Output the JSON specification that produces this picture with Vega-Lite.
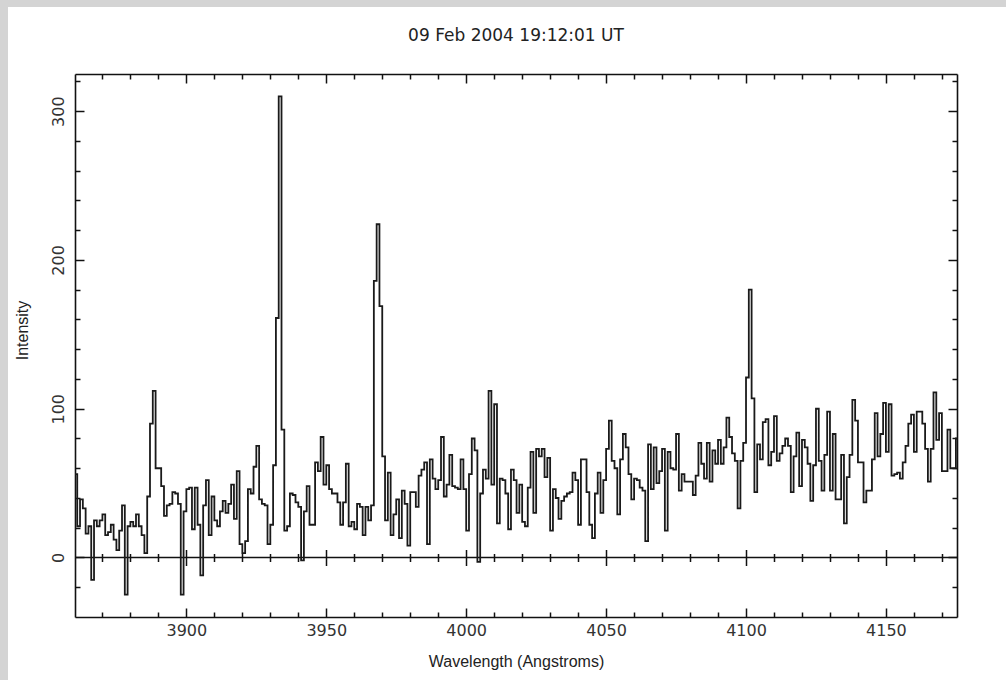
{
  "$schema": "https://vega.github.io/schema/vega-lite/v6.json",
  "width": 882,
  "height": 543,
  "autosize": {"type": "none"},
  "padding": {"left": 75, "top": 74, "right": 49, "bottom": 63},
  "background": "#d4d4d4",
  "config": {
    "view": {"stroke": "white", "strokeWidth": 134, "fill": "white"},
    "axis": {"grid": false}
  },
  "title": {
    "text": "09 Feb 2004 19:12:01 UT",
    "font": "DejaVu Sans",
    "fontSize": 17,
    "fontWeight": "normal",
    "color": "#222",
    "offset": 28,
    "anchor": "middle"
  },
  "resolve": {"axis": {"x": "independent", "y": "independent"}},
  "layer": [
    {
      "data": {"values": [{"k": 1}]},
      "mark": {"type": "rule", "color": "#111", "strokeWidth": 1.6},
      "encoding": {
        "x": {
          "datum": 3860.2,
          "type": "quantitative",
          "scale": {"domain": [3860.2, 4175.4], "nice": false, "zero": false},
          "axis": {
            "orient": "top",
            "values": [3870, 3880, 3890, 3900, 3910, 3920, 3930, 3940, 3950, 3960, 3970, 3980, 3990, 4000, 4010, 4020, 4030, 4040, 4050, 4060, 4070, 4080, 4090, 4100, 4110, 4120, 4130, 4140, 4150, 4160, 4170],
            "labels": false,
            "title": null,
            "tickSize": -9,
            "tickWidth": 1.5,
            "tickColor": "#111",
            "tickDash": {"condition": {"test": "datum.value % 50 !== 0", "value": [5, 40]}, "value": [20, 0]},
            "domainColor": "#111",
            "domainWidth": 1.6
          }
        },
        "x2": {"datum": 4175.4},
        "y": {
          "datum": 0,
          "type": "quantitative",
          "scale": {"domain": [-40, 325], "nice": false, "zero": false},
          "axis": {
            "orient": "right",
            "values": [-20, 0, 20, 40, 60, 80, 100, 120, 140, 160, 180, 200, 220, 240, 260, 280, 300, 320],
            "labels": false,
            "title": null,
            "tickSize": -9,
            "tickWidth": 1.5,
            "tickColor": "#111",
            "tickDash": {"condition": {"test": "datum.value % 100 !== 0", "value": [5, 40]}, "value": [20, 0]},
            "domainColor": "#111",
            "domainWidth": 1.6
          }
        }
      }
    },
    {
      "data": {"values": [
        {"w": 3859, "i": -10}, {"w": 3860, "i": 56}, {"w": 3861, "i": 21}, {"w": 3862, "i": 39}, {"w": 3863, "i": 33}, {"w": 3864, "i": 16}, {"w": 3865, "i": 21}, {"w": 3866, "i": -15}, {"w": 3867, "i": 25}, {"w": 3868, "i": 21}, {"w": 3869, "i": 25},
        {"w": 3870, "i": 29}, {"w": 3871, "i": 15}, {"w": 3872, "i": 17}, {"w": 3873, "i": 22}, {"w": 3874, "i": 12}, {"w": 3875, "i": 5}, {"w": 3876, "i": 18}, {"w": 3877, "i": 35}, {"w": 3878, "i": -25}, {"w": 3879, "i": 21},
        {"w": 3880, "i": 24}, {"w": 3881, "i": 21}, {"w": 3882, "i": 29}, {"w": 3883, "i": 21}, {"w": 3884, "i": 15}, {"w": 3885, "i": 3}, {"w": 3886, "i": 41}, {"w": 3887, "i": 90}, {"w": 3888, "i": 112}, {"w": 3889, "i": 60},
        {"w": 3890, "i": 60}, {"w": 3891, "i": 48}, {"w": 3892, "i": 28}, {"w": 3893, "i": 35}, {"w": 3894, "i": 36}, {"w": 3895, "i": 44}, {"w": 3896, "i": 43}, {"w": 3897, "i": 36}, {"w": 3898, "i": -25}, {"w": 3899, "i": 31},
        {"w": 3900, "i": 46}, {"w": 3901, "i": 47}, {"w": 3902, "i": 19}, {"w": 3903, "i": 47}, {"w": 3904, "i": 22}, {"w": 3905, "i": -12}, {"w": 3906, "i": 35}, {"w": 3907, "i": 52}, {"w": 3908, "i": 15}, {"w": 3909, "i": 41},
        {"w": 3910, "i": 25}, {"w": 3911, "i": 21}, {"w": 3912, "i": 31}, {"w": 3913, "i": 38}, {"w": 3914, "i": 30}, {"w": 3915, "i": 36}, {"w": 3916, "i": 49}, {"w": 3917, "i": 26}, {"w": 3918, "i": 58}, {"w": 3919, "i": 9},
        {"w": 3920, "i": 3}, {"w": 3921, "i": 11}, {"w": 3922, "i": 46}, {"w": 3923, "i": 43}, {"w": 3924, "i": 61}, {"w": 3925, "i": 75}, {"w": 3926, "i": 39}, {"w": 3927, "i": 36}, {"w": 3928, "i": 35}, {"w": 3929, "i": 9},
        {"w": 3930, "i": 22}, {"w": 3931, "i": 62}, {"w": 3932, "i": 161}, {"w": 3933, "i": 310}, {"w": 3934, "i": 86}, {"w": 3935, "i": 18}, {"w": 3936, "i": 21}, {"w": 3937, "i": 43}, {"w": 3938, "i": 42}, {"w": 3939, "i": 37},
        {"w": 3940, "i": 34}, {"w": 3941, "i": -2}, {"w": 3942, "i": 31}, {"w": 3943, "i": 48}, {"w": 3944, "i": 22}, {"w": 3945, "i": 22}, {"w": 3946, "i": 64}, {"w": 3947, "i": 58}, {"w": 3948, "i": 81}, {"w": 3949, "i": 49},
        {"w": 3950, "i": 62}, {"w": 3951, "i": 46}, {"w": 3952, "i": 43}, {"w": 3953, "i": 43}, {"w": 3954, "i": 37}, {"w": 3955, "i": 22}, {"w": 3956, "i": 37}, {"w": 3957, "i": 63}, {"w": 3958, "i": 21}, {"w": 3959, "i": 24},
        {"w": 3960, "i": 19}, {"w": 3961, "i": 36}, {"w": 3962, "i": 34}, {"w": 3963, "i": 15}, {"w": 3964, "i": 34}, {"w": 3965, "i": 25}, {"w": 3966, "i": 35}, {"w": 3967, "i": 186}, {"w": 3968, "i": 224}, {"w": 3969, "i": 169},
        {"w": 3970, "i": 68}, {"w": 3971, "i": 25}, {"w": 3972, "i": 57}, {"w": 3973, "i": 15}, {"w": 3974, "i": 29}, {"w": 3975, "i": 39}, {"w": 3976, "i": 13}, {"w": 3977, "i": 45}, {"w": 3978, "i": 36}, {"w": 3979, "i": 8},
        {"w": 3980, "i": 44}, {"w": 3981, "i": 44}, {"w": 3982, "i": 34}, {"w": 3983, "i": 55}, {"w": 3984, "i": 59}, {"w": 3985, "i": 64}, {"w": 3986, "i": 9}, {"w": 3987, "i": 66}, {"w": 3988, "i": 53}, {"w": 3989, "i": 46},
        {"w": 3990, "i": 52}, {"w": 3991, "i": 81}, {"w": 3992, "i": 41}, {"w": 3993, "i": 49}, {"w": 3994, "i": 69}, {"w": 3995, "i": 48}, {"w": 3996, "i": 47}, {"w": 3997, "i": 46}, {"w": 3998, "i": 66}, {"w": 3999, "i": 46},
        {"w": 4000, "i": 18}, {"w": 4001, "i": 56}, {"w": 4002, "i": 80}, {"w": 4003, "i": 72}, {"w": 4004, "i": -3}, {"w": 4005, "i": 43}, {"w": 4006, "i": 59}, {"w": 4007, "i": 53}, {"w": 4008, "i": 112}, {"w": 4009, "i": 49},
        {"w": 4010, "i": 103}, {"w": 4011, "i": 23}, {"w": 4012, "i": 53}, {"w": 4013, "i": 52}, {"w": 4014, "i": 43}, {"w": 4015, "i": 19}, {"w": 4016, "i": 59}, {"w": 4017, "i": 52}, {"w": 4018, "i": 30}, {"w": 4019, "i": 49},
        {"w": 4020, "i": 24}, {"w": 4021, "i": 21}, {"w": 4022, "i": 47}, {"w": 4023, "i": 71}, {"w": 4024, "i": 30}, {"w": 4025, "i": 73}, {"w": 4026, "i": 68}, {"w": 4027, "i": 73}, {"w": 4028, "i": 54}, {"w": 4029, "i": 67},
        {"w": 4030, "i": 18}, {"w": 4031, "i": 46}, {"w": 4032, "i": 40}, {"w": 4033, "i": 26}, {"w": 4034, "i": 38}, {"w": 4035, "i": 41}, {"w": 4036, "i": 43}, {"w": 4037, "i": 44}, {"w": 4038, "i": 57}, {"w": 4039, "i": 52},
        {"w": 4040, "i": 22}, {"w": 4041, "i": 66}, {"w": 4042, "i": 66}, {"w": 4043, "i": 44}, {"w": 4044, "i": 22}, {"w": 4045, "i": 13}, {"w": 4046, "i": 43}, {"w": 4047, "i": 57}, {"w": 4048, "i": 30}, {"w": 4049, "i": 52},
        {"w": 4050, "i": 73}, {"w": 4051, "i": 92}, {"w": 4052, "i": 65}, {"w": 4053, "i": 60}, {"w": 4054, "i": 29}, {"w": 4055, "i": 66}, {"w": 4056, "i": 83}, {"w": 4057, "i": 74}, {"w": 4058, "i": 56}, {"w": 4059, "i": 39},
        {"w": 4060, "i": 53}, {"w": 4061, "i": 52}, {"w": 4062, "i": 47}, {"w": 4063, "i": 45}, {"w": 4064, "i": 11}, {"w": 4065, "i": 76}, {"w": 4066, "i": 46}, {"w": 4067, "i": 74}, {"w": 4068, "i": 50}, {"w": 4069, "i": 58},
        {"w": 4070, "i": 73}, {"w": 4071, "i": 18}, {"w": 4072, "i": 71}, {"w": 4073, "i": 60}, {"w": 4074, "i": 59}, {"w": 4075, "i": 83}, {"w": 4076, "i": 45}, {"w": 4077, "i": 56}, {"w": 4078, "i": 51}, {"w": 4079, "i": 51},
        {"w": 4080, "i": 51}, {"w": 4081, "i": 42}, {"w": 4082, "i": 55}, {"w": 4083, "i": 77}, {"w": 4084, "i": 63}, {"w": 4085, "i": 53}, {"w": 4086, "i": 77}, {"w": 4087, "i": 51}, {"w": 4088, "i": 72}, {"w": 4089, "i": 63},
        {"w": 4090, "i": 79}, {"w": 4091, "i": 63}, {"w": 4092, "i": 74}, {"w": 4093, "i": 94}, {"w": 4094, "i": 81}, {"w": 4095, "i": 70}, {"w": 4096, "i": 65}, {"w": 4097, "i": 33}, {"w": 4098, "i": 65}, {"w": 4099, "i": 77},
        {"w": 4100, "i": 121}, {"w": 4101, "i": 180}, {"w": 4102, "i": 107}, {"w": 4103, "i": 44}, {"w": 4104, "i": 76}, {"w": 4105, "i": 66}, {"w": 4106, "i": 91}, {"w": 4107, "i": 93}, {"w": 4108, "i": 62}, {"w": 4109, "i": 71},
        {"w": 4110, "i": 95}, {"w": 4111, "i": 65}, {"w": 4112, "i": 70}, {"w": 4113, "i": 75}, {"w": 4114, "i": 80}, {"w": 4115, "i": 75}, {"w": 4116, "i": 44}, {"w": 4117, "i": 68}, {"w": 4118, "i": 84}, {"w": 4119, "i": 48},
        {"w": 4120, "i": 79}, {"w": 4121, "i": 74}, {"w": 4122, "i": 63}, {"w": 4123, "i": 38}, {"w": 4124, "i": 62}, {"w": 4125, "i": 100}, {"w": 4126, "i": 65}, {"w": 4127, "i": 45}, {"w": 4128, "i": 69}, {"w": 4129, "i": 98},
        {"w": 4130, "i": 45}, {"w": 4131, "i": 83}, {"w": 4132, "i": 39}, {"w": 4133, "i": 39}, {"w": 4134, "i": 69}, {"w": 4135, "i": 23}, {"w": 4136, "i": 54}, {"w": 4137, "i": 69}, {"w": 4138, "i": 106}, {"w": 4139, "i": 92},
        {"w": 4140, "i": 64}, {"w": 4141, "i": 64}, {"w": 4142, "i": 37}, {"w": 4143, "i": 45}, {"w": 4144, "i": 45}, {"w": 4145, "i": 66}, {"w": 4146, "i": 97}, {"w": 4147, "i": 68}, {"w": 4148, "i": 83}, {"w": 4149, "i": 104},
        {"w": 4150, "i": 71}, {"w": 4151, "i": 103}, {"w": 4152, "i": 55}, {"w": 4153, "i": 56}, {"w": 4154, "i": 57}, {"w": 4155, "i": 53}, {"w": 4156, "i": 64}, {"w": 4157, "i": 75}, {"w": 4158, "i": 90}, {"w": 4159, "i": 96},
        {"w": 4160, "i": 71}, {"w": 4161, "i": 98}, {"w": 4162, "i": 98}, {"w": 4163, "i": 90}, {"w": 4164, "i": 73}, {"w": 4165, "i": 51}, {"w": 4166, "i": 73}, {"w": 4167, "i": 111}, {"w": 4168, "i": 79}, {"w": 4169, "i": 97},
        {"w": 4170, "i": 58}, {"w": 4171, "i": 58}, {"w": 4172, "i": 86}, {"w": 4173, "i": 60}, {"w": 4174, "i": 60}, {"w": 4175, "i": 80}, {"w": 4176, "i": 80}
      ]},
      "mark": {"type": "line", "interpolate": "step-after", "color": "#1a1a1a", "strokeWidth": 1.8, "clip": true},
      "encoding": {
        "x": {
          "field": "w",
          "type": "quantitative",
          "scale": {"domain": [3860.2, 4175.4], "nice": false, "zero": false},
          "axis": {
            "orient": "bottom",
            "values": [3870, 3880, 3890, 3900, 3910, 3920, 3930, 3940, 3950, 3960, 3970, 3980, 3990, 4000, 4010, 4020, 4030, 4040, 4050, 4060, 4070, 4080, 4090, 4100, 4110, 4120, 4130, 4140, 4150, 4160, 4170],
            "format": "d",
            "labelExpr": "datum.value % 50 === 0 ? datum.label : ''",
            "labelFont": "DejaVu Sans",
            "labelFontSize": 16,
            "labelColor": "#333",
            "labelPadding": 14,
            "labelFlush": false,
            "labelOverlap": false,
            "tickSize": -9,
            "tickWidth": 1.5,
            "tickColor": "#111",
            "tickDash": {"condition": {"test": "datum.value % 50 !== 0", "value": [5, 40]}, "value": [20, 0]},
            "grid": true,
            "gridColor": "#111",
            "gridWidth": 1.5,
            "gridOpacity": 1,
            "gridDash": {"condition": {"test": "datum.value % 50 !== 0", "value": [0, 479.5, 8, 700]}, "value": [0, 475.5, 16, 700]},
            "domainColor": "#111",
            "domainWidth": 1.6,
            "title": "Wavelength (Angstroms)",
            "titleFont": "Liberation Sans",
            "titleFontSize": 16,
            "titleFontWeight": "normal",
            "titleColor": "#222",
            "titlePadding": 15
          }
        },
        "y": {
          "field": "i",
          "type": "quantitative",
          "scale": {"domain": [-40, 325], "nice": false, "zero": false},
          "axis": {
            "orient": "left",
            "values": [-20, 0, 20, 40, 60, 80, 100, 120, 140, 160, 180, 200, 220, 240, 260, 280, 300, 320],
            "format": "d",
            "labelExpr": "datum.value % 100 === 0 ? datum.label : ''",
            "labelAngle": -90,
            "labelAlign": "center",
            "labelBaseline": "bottom",
            "labelFont": "DejaVu Sans",
            "labelFontSize": 16,
            "labelColor": "#333",
            "labelPadding": 18,
            "labelOverlap": false,
            "tickSize": -9,
            "tickWidth": 1.5,
            "tickColor": "#111",
            "tickDash": {"condition": {"test": "datum.value % 100 !== 0", "value": [5, 40]}, "value": [20, 0]},
            "domainColor": "#111",
            "domainWidth": 1.6,
            "title": "Intensity",
            "titleFont": "Liberation Sans",
            "titleFontSize": 16,
            "titleFontWeight": "normal",
            "titleColor": "#222",
            "titlePadding": 20,
            "titleY": 256
          }
        }
      }
    }
  ]
}
